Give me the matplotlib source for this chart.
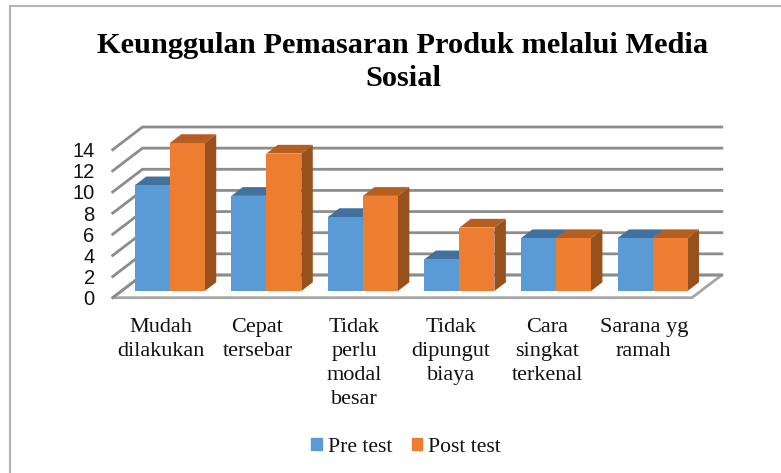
import matplotlib
matplotlib.use("Agg")
import matplotlib.pyplot as plt
from matplotlib.patches import Polygon, Patch, Rectangle

categories = ["Mudah\ndilakukan", "Cepat\ntersebar", "Tidak\nperlu\nmodal\nbesar",
              "Tidak\ndipungut\nbiaya", "Cara\nsingkat\nterkenal", "Sarana yg\nramah"]
pre_test = [10, 9, 7, 3, 5, 5]
post_test = [14, 13, 9, 6, 5, 5]
y_ticks = [0, 2, 4, 6, 8, 10, 12, 14]
title = "Keunggulan Pemasaran Produk melalui Media\nSosial"

W, H = 781, 473
fig = plt.figure(figsize=(W / 100, H / 100), dpi=100, facecolor="white")
L, R, B, T = 112.7, 692.0, 297.7, 149.7
ax = fig.add_axes([L / W, 1 - B / H, (R - L) / W, (B - T) / H])
ax.set_xlim(0, 6)
ax.set_ylim(0, 14)
for s in ax.spines.values():
    s.set_visible(False)
ax.patch.set_visible(False)

DX = 29.8 / 96.55   # full depth offset, in category units
DY = 22.7 / 10.57   # full depth offset, in value units
D0, D1 = 0.295, 0.68  # bar depth range (fraction of the full depth)
BAR = 0.3625


def p(x, y, d):
    return (x + d * DX, y + d * DY)


GRID = "#8c8c8c"
# floor
ax.add_patch(Polygon([p(0, 0, 0), p(6, 0, 0), p(6, 0, 1), p(0, 0, 1)], closed=True,
                     fc="white", ec="#a6a6a6", lw=2, clip_on=False, zorder=1))
# walls: gridlines
for v in y_ticks:
    xs, ys = zip(p(0, v, 0), p(0, v, 1), p(6, v, 1))
    ax.plot(xs, ys, color=GRID, lw=2, clip_on=False, zorder=2, solid_joinstyle="miter")


def box(x0, x1, h, front, top, side, z):
    ax.add_patch(Polygon([p(x0, 0, D0), p(x1, 0, D0), p(x1, h, D0), p(x0, h, D0)], closed=True,
                         fc=front, ec="none", clip_on=False, zorder=z + 0.2))
    ax.add_patch(Polygon([p(x0, h, D0), p(x1, h, D0), p(x1, h, D1), p(x0, h, D1)], closed=True,
                         fc=top, ec="none", clip_on=False, zorder=z + 0.1))
    ax.add_patch(Polygon([p(x1, 0, D0), p(x1, h, D0), p(x1, h, D1), p(x1, 0, D1)], closed=True,
                         fc=side, ec="none", clip_on=False, zorder=z))


BLUE, BLUE_T, BLUE_S = "#5b9bd5", "#41719c", "#41719c"
ORANGE, ORANGE_T, ORANGE_S = "#ed7d31", "#b55e22", "#97511c"
for i, (a, b) in enumerate(zip(pre_test, post_test)):
    c = i + 0.5
    box(c - BAR, c, a, BLUE, BLUE_T, BLUE_S, 3 + i)
    box(c, c + BAR, b, ORANGE, ORANGE_T, ORANGE_S, 3.5 + i)

serif = "Liberation Serif"
ax.set_yticks(y_ticks)
ax.set_yticklabels([str(v) for v in y_ticks], fontsize=14.5, family="Liberation Sans", color="#111111")
ax.set_xticks([i + 0.5 for i in range(6)])
ax.set_xticklabels(categories, fontsize=16, family=serif, color="#111111", linespacing=1.36)
ax.tick_params(axis="both", length=0)
ax.tick_params(axis="y", pad=13)
ax.tick_params(axis="x", pad=14.5)

fig.text(403 / W, 1 - 62 / H, title, ha="center", va="center", fontsize=21.9,
         family=serif, fontweight="bold", color="black", linespacing=1.28)

handles = [Patch(color=BLUE, label="Pre test"), Patch(color=ORANGE, label="Post test")]
fig.legend(handles=handles, loc="center", bbox_to_anchor=(406 / W, 1 - 447 / H), ncol=2,
           frameon=False, prop={"family": serif, "size": 15.6}, handlelength=0.5,
           handleheight=0.5, handletextpad=0.25, columnspacing=0.9, labelcolor="#111111")

fig.add_artist(Rectangle((9.5 / W, -5 / H), (W + 10) / W, (H + 5 - 6.5) / H, transform=fig.transFigure,
                         fc="none", ec="#b4b4b4", lw=1.5))
fig.savefig("out.png", dpi=100)
